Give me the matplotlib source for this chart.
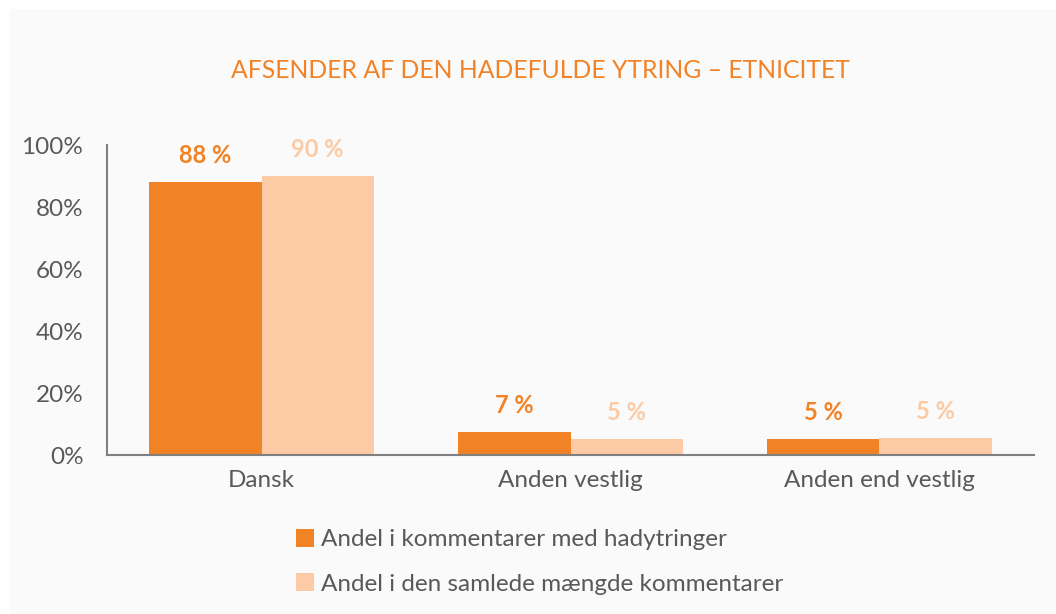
import numpy as np
import matplotlib.pyplot as plt
from matplotlib.patches import Rectangle

categories = ['Dansk', 'Anden vestlig', 'Anden end vestlig']
hate_share = [88, 7.4, 5.2]
total_share = [90, 5.3, 5.4]
series_names = ['Andel i kommentarer med hadytringer',
                'Andel i den samlede mængde kommentarer']
yticks = [0, 20, 40, 60, 80, 100]

orange = '#F28226'
peach = '#FCCBA6'
grey_text = '#595959'

plt.rcParams['font.family'] = ['Lato', 'DejaVu Sans']

fig = plt.figure(figsize=(10.56, 6.14), dpi=100, facecolor='white')
fig.patches.append(Rectangle((10 / 1056, 0), 1, 1 - 9 / 614, transform=fig.transFigure,
                             facecolor='#FAFAFA', edgecolor='none', zorder=-10))

ax = fig.add_axes([107 / 1056, (614 - 455) / 614, 927 / 1056, 310 / 614])
ax.set_facecolor('none')

x = np.arange(len(categories))
w = 0.363
b1 = ax.bar(x - w / 2, hate_share, w, color=orange, label=series_names[0])
b2 = ax.bar(x + w / 2, total_share, w, color=peach, label=series_names[1])

for bars, col in ((b1, orange), (b2, peach)):
    for r in bars:
        ax.annotate(f'{round(r.get_height()):.0f} %',
                    (r.get_x() + r.get_width() / 2, r.get_height()),
                    xytext=(0, 19), textcoords='offset points',
                    ha='center', va='center', fontsize=17, fontweight='bold', color=col)

ax.set_xlim(-0.5, 2.5)
ax.set_ylim(0, 100)
ax.set_yticks(yticks)
ax.set_yticklabels([f'{t}%' for t in yticks])
ax.set_xticks(x)
ax.set_xticklabels(categories)
ax.tick_params(length=0, labelsize=17.5, colors=grey_text)
ax.tick_params(axis='y', pad=17)
ax.tick_params(axis='x', pad=11)
for s in ('top', 'right'):
    ax.spines[s].set_visible(False)
for s in ('left', 'bottom'):
    ax.spines[s].set_color('#808080')
    ax.spines[s].set_linewidth(1.5)

fig.text(540 / 1056, 1 - 70 / 614, 'AFSENDER AF DEN HADEFULDE YTRING – ETNICITET',
         ha='center', va='center', fontsize=17.8, color=orange)

leg = fig.legend(loc='upper left', bbox_to_anchor=(274 / 1056, 1 - 507 / 614),
                 frameon=False, fontsize=17.5, handlelength=0.75, handleheight=0.75,
                 handletextpad=0.3, labelspacing=0.95, labelcolor=grey_text)

fig.savefig('out.png', dpi=100, facecolor=fig.get_facecolor())
